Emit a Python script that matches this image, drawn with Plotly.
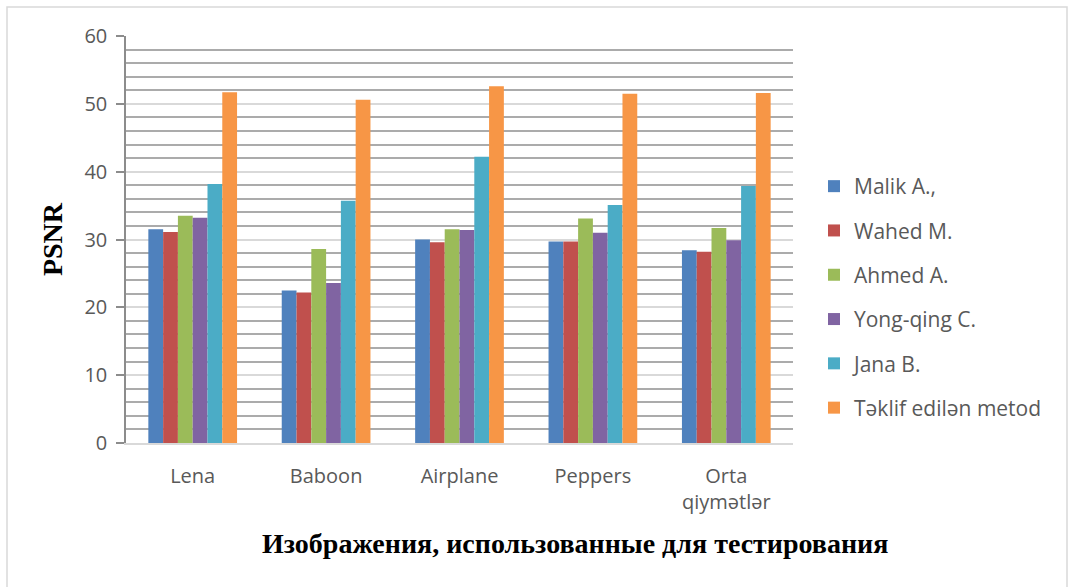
import plotly.graph_objects as go

# Test images and the PSNR (dB) obtained by each method
categories = ["Lena", "Baboon", "Airplane", "Peppers", "Orta<br>qiymətlər"]

malik = [31.5, 22.5, 30.0, 29.7, 28.4]
wahed = [31.1, 22.2, 29.6, 29.7, 28.2]
ahmed = [33.5, 28.6, 31.5, 33.1, 31.7]
yong = [33.2, 23.6, 31.4, 31.0, 29.9]
jana = [38.2, 35.7, 42.2, 35.1, 37.9]
proposed = [51.7, 50.6, 52.6, 51.5, 51.6]

series_names = ["Malik A.,", "Wahed M.", "Ahmed A.", "Yong-qing C.", "Jana B.", "Təklif edilən metod"]
series_values = [malik, wahed, ahmed, yong, jana, proposed]
series_colors = ["#4F81BD", "#C0504D", "#9BBB59", "#8064A2", "#4BACC6", "#F79646"]

y_ticks = [0, 10, 20, 30, 40, 50, 60]

W, H = 1068, 587
ML, MR, MT, MB = 126, 275, 36, 144
PW, PH = W - ML - MR, H - MT - MB

def px_x(x):
    return (x - ML) / PW

def px_y(y):
    return (H - MB - y) / PH

TICK_FONT = dict(family="Open Sans", size=20, color="#595959")
TITLE_FONT = dict(family="Liberation Serif", size=28, color="#000000")

fig = go.Figure()
for i, (name, vals, col) in enumerate(zip(series_names, series_values, series_colors)):
    fig.add_trace(go.Bar(
        x=categories, y=vals, name=name,
        marker=dict(color=col, line=dict(width=0)),
        legendgroup=f"g{i}",
    ))

fig.update_layout(
    width=W, height=H,
    margin=dict(l=ML, r=MR, t=MT, b=MB, autoexpand=False),
    paper_bgcolor="white", plot_bgcolor="white",
    barmode="group", bargap=0.335, bargroupgap=0,
    showlegend=True,
    legend=dict(
        x=px_x(814), y=px_y(166), xanchor="left", yanchor="top",
        font=dict(family="Open Sans", size=21, color="#595959"),
        tracegroupgap=14, itemwidth=30, bgcolor="rgba(0,0,0,0)",
    ),
    xaxis=dict(
        type="category",
        showline=True, linecolor="#d9d9d9", linewidth=1.5,
        showgrid=False, ticks="", tickfont=TICK_FONT,
        ticklabelstandoff=14,
    ),
    yaxis=dict(
        range=[0, 60], tickvals=y_ticks, ticktext=[str(v) for v in y_ticks],
        showline=True, linecolor="#8c8c8c", linewidth=1.5,
        ticks="outside", ticklen=8, tickcolor="#8c8c8c", tickwidth=1.5,
        tickfont=TICK_FONT, ticklabelstandoff=5,
        showgrid=True, gridcolor="#d9d9d9", gridwidth=1.5,
        minor=dict(dtick=2, showgrid=True, gridcolor="#ababab", gridwidth=1.5, ticks=""),
        zeroline=False,
        title=dict(text="<b>PSNR</b>", font=TITLE_FONT, standoff=14),
    ),
    annotations=[dict(
        text="<b>Изображения, использованные для тестирования</b>",
        xref="paper", yref="paper", x=px_x(575), y=px_y(543),
        xanchor="center", yanchor="middle", showarrow=False,
        font=TITLE_FONT,
    )],
    shapes=[dict(
        type="rect", xref="paper", yref="paper",
        x0=px_x(7), x1=px_x(1067), y0=px_y(595), y1=px_y(7),
        line=dict(color="#d9d9d9", width=1.5), fillcolor="rgba(0,0,0,0)",
        layer="below",
    )],
)

fig.write_html("out.html")
